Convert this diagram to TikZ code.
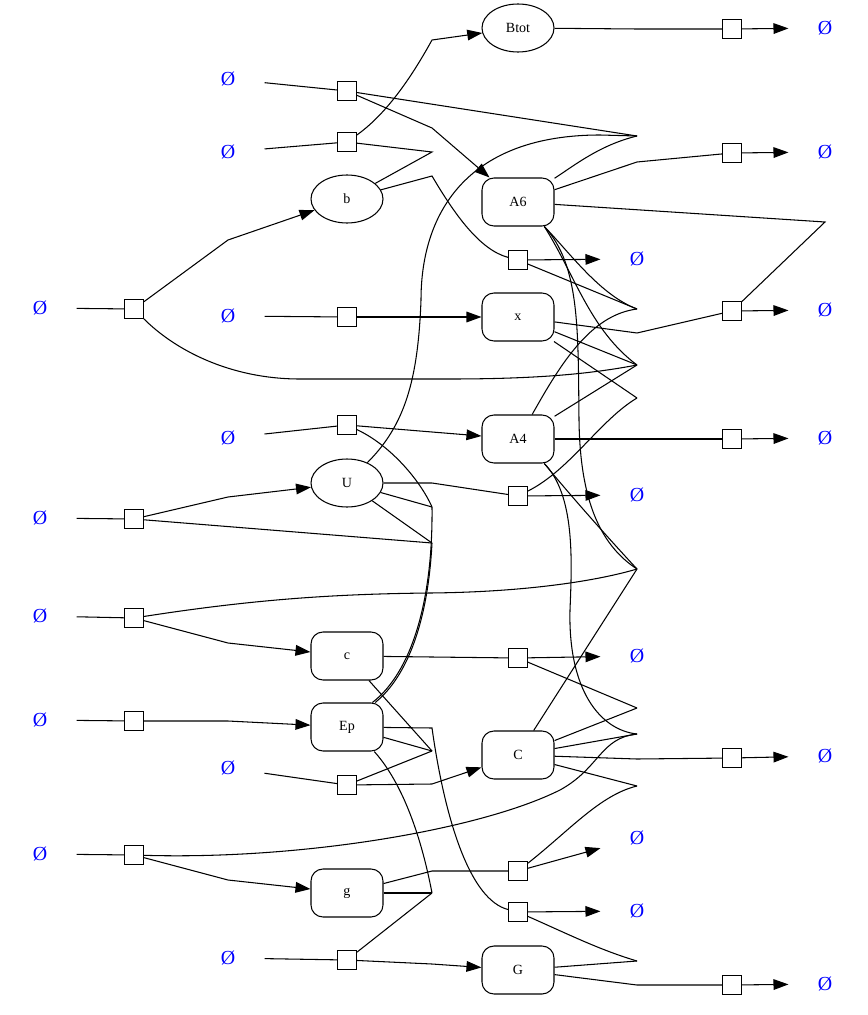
\documentclass[tikz,border=0pt]{standalone}
\usepackage{fontspec}
\setmainfont{Liberation Serif}
\usetikzlibrary{shapes.geometric,arrows.meta}

\begin{document}
\begin{tikzpicture}[x=0.03cm, y=-0.03cm, line width=0.9pt,
  sp/.style={ellipse, draw, minimum width=2.16cm, minimum height=1.44cm, inner sep=0, font=\fontsize{12}{14}\selectfont},
  spbox/.style={rectangle, rounded corners=0.36cm, draw, minimum width=2.16cm, minimum height=1.44cm, inner sep=0, font=\fontsize{12}{14}\selectfont},
  rxn/.style={rectangle, draw, minimum size=0.56cm, inner sep=0},
  nil/.style={text=blue, font=\fontsize{17}{18}\selectfont, minimum width=2.16cm, minimum height=0.9cm, inner sep=0},
  arr/.style={-{Triangle[length=0.45cm, width=0.32cm]}}]
\useasboundingbox (0,0) rectangle (867,1015);

\node[sp] (Btot) at (518,28) {Btot};
\node[sp] (b) at (347,199) {b};
\node[sp] (U) at (347,483) {U};
\node[spbox] (A6) at (518,202) {A6};
\node[spbox] (x) at (518,317) {x};
\node[spbox] (A4) at (518,439) {A4};
\node[spbox] (c) at (347,656) {c};
\node[spbox] (Ep) at (347,727) {Ep};
\node[spbox] (C) at (518,755) {C};
\node[spbox] (g) at (347,893) {g};
\node[spbox] (G) at (518,970) {G};

\node[nil] (e1) at (40,308) {Ø};
\node[nil] (e2) at (40,518) {Ø};
\node[nil] (e3) at (40,616) {Ø};
\node[nil] (e4) at (40,720) {Ø};
\node[nil] (e5) at (40,854) {Ø};
\node[nil] (e6) at (228,79) {Ø};
\node[nil] (e7) at (228,152) {Ø};
\node[nil] (e8) at (228,316) {Ø};
\node[nil] (e9) at (228,438) {Ø};
\node[nil] (e10) at (228,768) {Ø};
\node[nil] (e11) at (228,958) {Ø};
\node[nil] (e12) at (637,259) {Ø};
\node[nil] (e13) at (637,495) {Ø};
\node[nil] (e14) at (637,656) {Ø};
\node[nil] (e15) at (637,838) {Ø};
\node[nil] (e16) at (637,911) {Ø};
\node[nil] (e17) at (825,28) {Ø};
\node[nil] (e18) at (825,152) {Ø};
\node[nil] (e19) at (825,310) {Ø};
\node[nil] (e20) at (825,438) {Ø};
\node[nil] (e21) at (825,756) {Ø};
\node[nil] (e22) at (825,984) {Ø};

\node[rxn] (r1) at (134,309) {};
\node[rxn] (r2) at (134,519) {};
\node[rxn] (r3) at (134,618) {};
\node[rxn] (r4) at (134,721) {};
\node[rxn] (r5) at (134,855) {};
\node[rxn] (r6) at (347,91) {};
\node[rxn] (r7) at (347,142) {};
\node[rxn] (r8) at (347,317) {};
\node[rxn] (r9) at (347,425) {};
\node[rxn] (r10) at (347,785) {};
\node[rxn] (r11) at (347,960) {};
\node[rxn] (r12) at (518,260) {};
\node[rxn] (r13) at (518,496) {};
\node[rxn] (r14) at (518,658) {};
\node[rxn] (r15) at (518,871) {};
\node[rxn] (r16) at (518,912) {};
\node[rxn] (r17) at (732,29) {};
\node[rxn] (r18) at (732,153) {};
\node[rxn] (r19) at (732,311) {};
\node[rxn] (r20) at (732,439) {};
\node[rxn] (r21) at (732,758) {};
\node[rxn] (r22) at (732,985) {};

\coordinate (q1) at (228,240);
\coordinate (q2) at (228,497);
\coordinate (q3) at (228,643);
\coordinate (q4) at (228,721);
\coordinate (q5) at (228,880);
\coordinate (p1) at (432,40);
\coordinate (p2) at (432,128);
\coordinate (p3) at (432,152);
\coordinate (p4) at (432,176);
\coordinate (p5) at (432,317);
\coordinate (p6) at (432,432);
\coordinate (p7) at (432,483);
\coordinate (p8) at (432,507);
\coordinate (p9) at (432,543);
\coordinate (p10) at (432,657);
\coordinate (p11) at (432,728);
\coordinate (p12) at (432,751);
\coordinate (p13) at (432,784);
\coordinate (p14) at (432,871);
\coordinate (p15) at (432,893);
\coordinate (p16) at (432,964);
\coordinate (w1) at (637,29);
\coordinate (w2) at (637,136);
\coordinate (w3) at (637,162);
\coordinate (w4) at (637,309);
\coordinate (w5) at (637,333);
\coordinate (w6) at (637,365);
\coordinate (w7) at (637,398);
\coordinate (w8) at (637,439);
\coordinate (w9) at (637,569);
\coordinate (w10) at (637,708);
\coordinate (w11) at (637,734);
\coordinate (w12) at (637,759);
\coordinate (w13) at (637,786);
\coordinate (w14) at (637,961);
\coordinate (w15) at (637,985);
\coordinate (k1) at (825,222);

\draw (e1) -- (r1);
\draw[arr] (r1) -- (q1) -- (b);
\draw (r1) .. controls (175,350) and (230,379) .. (300,379) -- (450,379) .. controls (550,379) and (600,372) .. (w6);
\draw (e2) -- (r2);
\draw[arr] (r2) -- (q2) -- (U);
\draw (r2) -- (p9);
\draw (e3) -- (r3);
\draw[arr] (r3) -- (q3) -- (c);
\draw (r3) .. controls (250,600) and (330,594) .. (430,593) .. controls (530,592) and (600,580) .. (w9);
\draw (e4) -- (r4);
\draw[arr] (r4) -- (q4) -- (Ep);
\draw (e5) -- (r5);
\draw[arr] (r5) -- (q5) -- (g);
\draw (r5) .. controls (300,860) and (480,830) .. (560,790) .. controls (600,768) and (600,738) .. (w11);

\draw (e6) -- (r6);
\draw[arr] (r6) -- (p2) -- (A6);
\draw (r6) -- (w2);
\draw (e7) -- (r7);
\draw[arr] (r7) .. controls (385,115) and (410,80) .. (p1) -- (Btot);
\draw (r7) -- (p3) -- (b);
\draw (e8) -- (r8);
\draw[arr] (r8) -- (p5) -- (x);
\draw (e9) -- (r9);
\draw[arr] (r9) -- (p6) -- (A4);
\draw (r9) .. controls (390,445) and (420,480) .. (p8);
\draw (e10) -- (r10);
\draw[arr] (r10) -- (p13) -- (C);
\draw (r10) -- (p12);
\draw (e11) -- (r11);
\draw[arr] (r11) -- (p16) -- (G);
\draw (r11) -- (p15);

\draw (b) -- (p4) .. controls (455,215) and (480,250) .. (r12);
\draw (U) -- (p7) -- (r13);
\draw (U) -- (p8);
\draw (U) -- (p9);
\draw (U) .. controls (405,425) and (418,380) .. (421,300) .. controls (421,210) and (470,135) .. (600,135) -- (w2);
\draw (p8) .. controls (433,600) and (412,672) .. (Ep.44);
\draw (p9) .. controls (428,620) and (408,676) .. (Ep.41);
\draw (c) -- (p10) -- (r14);
\draw (c) -- (p12);
\draw (Ep) -- (p11) .. controls (445,820) and (470,900) .. (r16);
\draw (Ep) -- (p12);
\draw (Ep.-42) .. controls (400,780) and (420,830) .. (p15);
\draw (g) -- (p14) -- (r15);
\draw (g) -- (p15);

\draw (Btot) -- (w1) -- (r17);
\draw (A6) .. controls (575,165) and (600,145) .. (w2);
\draw (A6) -- (w3) -- (r18);
\draw (A6) -- (k1) -- (r19);
\draw (A6.-43) .. controls (570,253) and (600,295) .. (w4);
\draw (A6.-43) .. controls (575,275) and (590,330) .. (w6);
\draw (A6.-43) .. controls (580,265) and (578,330) .. (579,420) .. controls (580,500) and (600,545) .. (w9);
\draw (x) -- (w5) -- (r19);
\draw (x) -- (w6);
\draw (x) -- (w7);
\draw (A4) -- (w8) -- (r20);
\draw (A4.60) .. controls (560,365) and (590,315) .. (w4);
\draw (A4) -- (w6);
\draw (A4.-43) .. controls (570,495) and (610,540) .. (w9);
\draw (A4.-43) .. controls (575,495) and (572,560) .. (570,610) .. controls (568,690) and (600,730) .. (w11);
\draw (C) -- (w9);
\draw (C) -- (w10);
\draw (C) -- (w11);
\draw (C) -- (w12) -- (r21);
\draw (C) -- (w13);
\draw (G) -- (w14);
\draw (G) -- (w15) -- (r22);

\draw (r12) -- (w4);
\draw (r13) .. controls (570,470) and (600,420) .. (w7);
\draw (r14) -- (w10);
\draw (r15) .. controls (570,830) and (600,795) .. (w13);
\draw (r16) .. controls (570,935) and (600,950) .. (w14);

\draw[arr] (r12) -- (e12);
\draw[arr] (r13) -- (e13);
\draw[arr] (r14) -- (e14);
\draw[arr] (r15) -- (e15);
\draw[arr] (r16) -- (e16);
\draw[arr] (r17) -- (e17);
\draw[arr] (r18) -- (e18);
\draw[arr] (r19) -- (e19);
\draw[arr] (r20) -- (e20);
\draw[arr] (r21) -- (e21);
\draw[arr] (r22) -- (e22);
\end{tikzpicture}
\end{document}
